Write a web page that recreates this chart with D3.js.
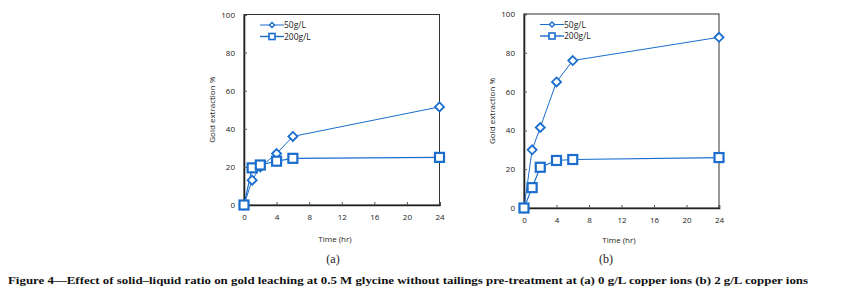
<!DOCTYPE html>
<html>
<head>
<meta charset="utf-8">
<script src="https://cdn.jsdelivr.net/npm/d3@7"></script>
<style>
    body { margin: 0; background: #fff; }
    svg { display: block; }
</style>
</head>
<body>
<svg id="chart" width="865" height="296"></svg>
<script>
const times = [0, 1, 2, 4, 6, 24];
const seriesNames = ['50g/L', '200g/L'];
const a50 = [0, 13, 20, 27, 36, 51.5];
const a200 = [0, 19.5, 21, 23, 24.5, 25];
const b50 = [0, 30, 41.5, 65, 76, 88];
const b200 = [0, 10.5, 21, 24.5, 25, 26];
const xTicks = [0, 4, 8, 12, 16, 20, 24];
const yTicks = [0, 20, 40, 60, 80, 100];
const panelLabels = ['(a)', '(b)'];
const caption = 'Figure 4\u2014Effect of solid\u2013liquid ratio on gold leaching at 0.5 M glycine without tailings pre-treatment at (a) 0 g/L copper ions (b) 2 g/L copper ions';

const blue = '#1a6dcc';
const svg = d3.select('#chart');
const font = '"Open Sans", "DejaVu Sans", sans-serif';

const drawPanel = function drawPanel(box, s50, s200, label) {
    const x = d3.scaleLinear().domain([0, 24]).range([box.left, box.right]);
    const y = d3.scaleLinear().domain([0, 100]).range([box.bottom, box.top]);
    const g = svg.append('g');

    // frame
    g.append('rect')
        .attr('x', box.left).attr('y', box.top)
        .attr('width', box.right - box.left).attr('height', box.bottom - box.top)
        .attr('fill', 'none').attr('stroke', '#333').attr('stroke-width', 1);

    const xAxis = g.append('g')
        .attr('transform', 'translate(0,' + box.bottom + ')')
        .call(d3.axisBottom(x).tickValues(xTicks).tickSize(-3).tickPadding(9));
    const yAxis = g.append('g')
        .attr('transform', 'translate(' + box.left + ',0)')
        .call(d3.axisLeft(y).tickValues(yTicks).tickSize(-3).tickPadding(9));
    [xAxis, yAxis].forEach((ax) => {
        ax.select('.domain').attr('stroke', '#222').attr('stroke-width', 1.6);
        ax.selectAll('.tick line').attr('stroke', '#555');
        ax.selectAll('.tick text')
            .attr('fill', '#222')
            .style('font', '8px ' + font);
    });

    g.append('text')
        .attr('transform', 'translate(' + (box.left - 29) + ',' + ((box.top + box.bottom) / 2) + ') rotate(-90)')
        .attr('text-anchor', 'middle')
        .attr('fill', '#222')
        .style('font', '8px ' + font)
        .text('Gold extraction %');

    g.append('text')
        .attr('x', box.titleX)
        .attr('y', box.titleY)
        .attr('text-anchor', 'middle')
        .attr('fill', '#222')
        .style('font', '8px ' + font)
        .text('Time (hr)');

    g.append('text')
        .attr('x', box.labelX)
        .attr('y', 263)
        .attr('text-anchor', 'middle')
        .attr('fill', '#222')
        .style('font', '12px "Liberation Serif", serif')
        .text(label);

    const line = d3.line()
        .x((d, i) => x(times[i]))
        .y((d) => y(d));

    g.append('path').datum(s50)
        .attr('d', line).attr('fill', 'none')
        .attr('stroke', blue).attr('stroke-width', 1);
    g.append('path').datum(s200)
        .attr('d', line).attr('fill', 'none')
        .attr('stroke', blue).attr('stroke-width', 1.2);

    const diamond = (cx, cy, r) => 'M' + cx + ',' + (cy - r) + 'L' + (cx + r) + ',' + cy +
        'L' + cx + ',' + (cy + r) + 'L' + (cx - r) + ',' + cy + 'Z';

    g.selectAll('.d50').data(s50).enter().append('path')
        .attr('d', (d, i) => diamond(x(times[i]), y(d), 4.5))
        .attr('fill', '#fff').attr('stroke', blue).attr('stroke-width', 1.8);
    g.selectAll('.s200').data(s200).enter().append('rect')
        .attr('x', (d, i) => x(times[i]) - 4.5)
        .attr('y', (d) => y(d) - 4.5)
        .attr('width', 9).attr('height', 9)
        .attr('fill', '#fff').attr('stroke', blue).attr('stroke-width', 2.2);

    // legend
    const lx = box.left + 16;
    const ly = [box.top + 10.5, box.top + 22];
    seriesNames.forEach((name, i) => {
        g.append('line')
            .attr('x1', lx).attr('x2', lx + 24)
            .attr('y1', ly[i]).attr('y2', ly[i])
            .attr('stroke', blue).attr('stroke-width', i === 0 ? 1 : 1.4);
        if (i === 0) {
            g.append('path').attr('d', diamond(lx + 12, ly[i], 2.6))
                .attr('fill', '#fff').attr('stroke', blue).attr('stroke-width', 1.4);
        } else {
            g.append('rect')
                .attr('x', lx + 9).attr('y', ly[i] - 3)
                .attr('width', 6).attr('height', 6)
                .attr('fill', '#fff').attr('stroke', blue).attr('stroke-width', 1.6);
        }
        g.append('text')
            .attr('x', lx + 24).attr('y', ly[i] + 3)
            .attr('fill', '#222')
            .style('font', '8.5px ' + font)
            .text(name);
    });
};

drawPanel({left: 244, right: 439.5, top: 14.5, bottom: 205, titleX: 335, titleY: 242, labelX: 333},
    a50, a200, panelLabels[0]);
drawPanel({left: 524, right: 719, top: 14, bottom: 208, titleX: 619, titleY: 243, labelX: 606},
    b50, b200, panelLabels[1]);

svg.append('text')
    .attr('x', 8).attr('y', 284)
    .attr('textLength', 800)
    .attr('lengthAdjust', 'spacingAndGlyphs')
    .attr('fill', '#111')
    .style('font', 'bold 10.5px "Liberation Serif", serif')
    .text(caption);
</script>
</body>
</html>
